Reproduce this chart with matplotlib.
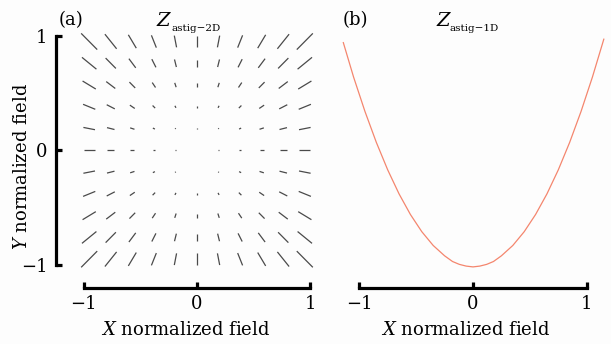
import numpy as np
import matplotlib
matplotlib.use("Agg")
import matplotlib.pyplot as plt
from matplotlib.collections import LineCollection

plt.rcParams['font.family'] = ['DejaVu Serif']
plt.rcParams['mathtext.fontset'] = 'dejavuserif'

# ---------------- data ----------------
# (a) field points of the 11 x 11 grid (normalized field)
field_x = [-0.95, -0.76, -0.57, -0.38, -0.19, 0.0, 0.19, 0.38, 0.57, 0.76, 0.95]
field_y = [0.95, 0.76, 0.57, 0.38, 0.19, 0.0, -0.19, -0.38, -0.57, -0.76, -0.95]  # top row first

# segment length (normalized field units), rows top -> bottom
seg_length = [
    [0.200, 0.164, 0.136, 0.116, 0.104, 0.100, 0.104, 0.116, 0.136, 0.164, 0.200],
    [0.164, 0.128, 0.100, 0.080, 0.068, 0.064, 0.068, 0.080, 0.100, 0.128, 0.164],
    [0.136, 0.100, 0.072, 0.052, 0.040, 0.036, 0.040, 0.052, 0.072, 0.100, 0.136],
    [0.116, 0.080, 0.052, 0.032, 0.020, 0.016, 0.020, 0.032, 0.052, 0.080, 0.116],
    [0.104, 0.068, 0.040, 0.020, 0.008, 0.004, 0.008, 0.020, 0.040, 0.068, 0.104],
    [0.100, 0.064, 0.036, 0.016, 0.004, 0.000, 0.004, 0.016, 0.036, 0.064, 0.100],
    [0.104, 0.068, 0.040, 0.020, 0.008, 0.004, 0.008, 0.020, 0.040, 0.068, 0.104],
    [0.116, 0.080, 0.052, 0.032, 0.020, 0.016, 0.020, 0.032, 0.052, 0.080, 0.116],
    [0.136, 0.100, 0.072, 0.052, 0.040, 0.036, 0.040, 0.052, 0.072, 0.100, 0.136],
    [0.164, 0.128, 0.100, 0.080, 0.068, 0.064, 0.068, 0.080, 0.100, 0.128, 0.164],
    [0.200, 0.164, 0.136, 0.116, 0.104, 0.100, 0.104, 0.116, 0.136, 0.164, 0.200],
]

# segment orientation (degrees), rows top -> bottom
seg_angle = [
    [135, 129, 121, 112, 101, 90, 79, 68, 59, 51, 45],
    [141, 135, 127, 117, 104, 90, 76, 63, 53, 45, 39],
    [149, 143, 135, 124, 108, 90, 72, 56, 45, 37, 31],
    [158, 153, 146, 135, 117, 90, 63, 45, 34, 27, 22],
    [169, 166, 162, 153, 135, 90, 45, 27, 18, 14, 11],
    [0, 0, 0, 0, 0, 0, 0, 0, 0, 0, 0],
    [11, 14, 18, 27, 45, 90, 135, 153, 162, 166, 169],
    [22, 27, 34, 45, 63, 90, 117, 135, 146, 153, 158],
    [31, 37, 45, 56, 72, 90, 108, 124, 135, 143, 149],
    [39, 45, 53, 63, 76, 90, 104, 117, 127, 135, 141],
    [45, 51, 59, 68, 79, 90, 101, 112, 121, 129, 135],
]

# (b) 1D astigmatism curve
curve_x = [-1.14, -1.05, -0.95, -0.85, -0.75, -0.65, -0.55, -0.45, -0.35, -0.25, -0.18, -0.12,
           -0.06, 0.0, 0.06, 0.12, 0.18, 0.25, 0.35, 0.45, 0.55, 0.65, 0.75, 0.85, 0.95, 1.05, 1.15]
curve_y = [0.94, 0.64, 0.34, 0.07, -0.17, -0.38, -0.56, -0.71, -0.83, -0.92, -0.97, -0.995,
           -1.01, -1.017, -1.01, -0.995, -0.97, -0.92, -0.83, -0.71, -0.56, -0.38, -0.17, 0.07,
           0.34, 0.64, 0.97]

ticks = [-1, 0, 1]

# ---------------- figure ----------------
W, H = 611, 344
fig = plt.figure(figsize=(W / 100, H / 100), dpi=100)
fig.patch.set_facecolor('#fdfdfd')

bot = (H - 278.7) / H
hgt = 256.7 / H
ax1 = fig.add_axes([69.9 / W, bot, 254.2 / W, hgt])
ax2 = fig.add_axes([336.5 / W, bot, 273.0 / W, hgt])

# (a) line field
X, Y = np.meshgrid(field_x, field_y)
L = np.array(seg_length)
A = np.deg2rad(np.array(seg_angle))
dx = 0.5 * L * np.cos(A)
dy = 0.5 * L * np.sin(A)
p0 = np.stack([X - dx, Y - dy], axis=-1).reshape(-1, 2)
p1 = np.stack([X + dx, Y + dy], axis=-1).reshape(-1, 2)
segs = np.stack([p0, p1], axis=1)
ax1.add_collection(LineCollection(segs, colors='#4a4a4a', linewidths=0.9))

ax1.set_xlim(-1.12, 1.12)
ax1.set_ylim(-1.12, 1.12)

# (b) curve
ax2.plot(curve_x, curve_y, color='#f4866e', lw=0.9)
ax2.set_xlim(-1.2, 1.2)
ax2.set_ylim(-1.12, 1.12)

for ax in (ax1, ax2):
    ax.set_facecolor('none')
    ax.spines['top'].set_visible(False)
    ax.spines['right'].set_visible(False)
    ax.spines['bottom'].set_position(('outward', 6.7))
    ax.spines['bottom'].set_bounds(-1, 1)
    ax.spines['bottom'].set_linewidth(2.3)
    ax.spines['bottom'].set_capstyle('projecting')
    ax.set_xticks(ticks)
    ax.set_xticklabels(['\u22121', '0', '1'])
    ax.tick_params(axis='x', direction='in', length=4.5, width=2.3, pad=5, labelsize=13)
    ax.spines['left'].set_position(('outward', 10))
    ax.spines['left'].set_bounds(-1, 1)
    ax.spines['left'].set_linewidth(2.3)
    ax.spines['left'].set_capstyle('projecting')

ax1.set_yticks(ticks)
ax1.set_yticklabels(['\u22121', '0', '1'])
ax1.tick_params(axis='y', direction='in', length=4.5, width=2.3, pad=6, labelsize=13)
ax2.spines['left'].set_visible(False)
ax2.set_yticks([])

# labels and titles
def fx(px):
    return px / W

def fy(py):
    return (H - py) / H

fig.text(fx(186), fy(335), r'$X$ normalized field', ha='center', va='baseline', fontsize=13)
fig.text(fx(466), fy(335), r'$X$ normalized field', ha='center', va='baseline', fontsize=13)
fig.text(fx(22), fy(166), r'$Y$ normalized field', ha='center', va='center', rotation=90, fontsize=13)

fig.text(fx(59), fy(25), '(a)', ha='left', va='baseline', fontsize=13)
fig.text(fx(343), fy(25), '(b)', ha='left', va='baseline', fontsize=13)

# Z with small subscript
for zx, sub in [(157, 'astig\u22122D'), (436, 'astig\u22121D')]:
    fig.text(fx(zx), fy(26), 'Z', ha='left', va='baseline', fontsize=14, fontstyle='italic')
    fig.text(fx(zx + 14), fy(31), sub, ha='left', va='baseline', fontsize=7.5)

fig.savefig('out.png', dpi=100, facecolor=fig.get_facecolor())
